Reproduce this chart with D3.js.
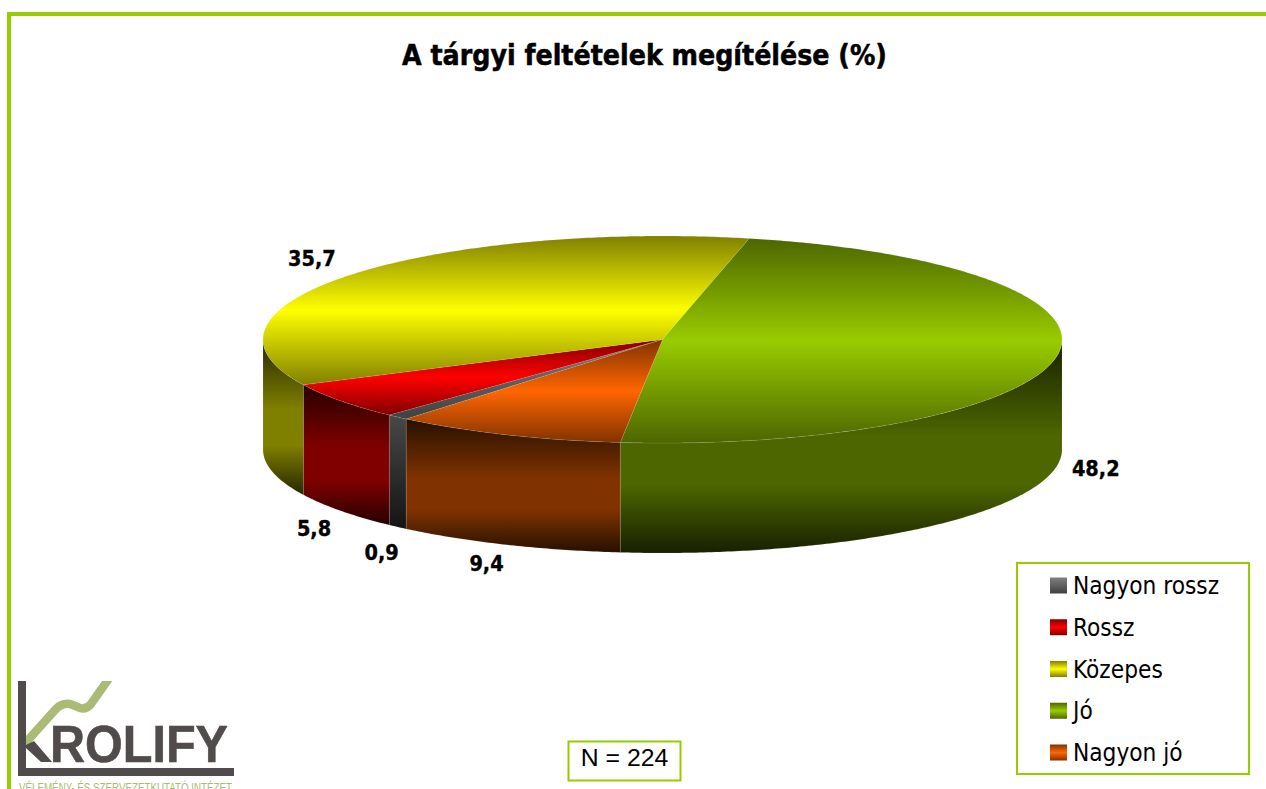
<!DOCTYPE html>
<html>
<head>
<meta charset="utf-8">
<script src="https://cdn.jsdelivr.net/npm/d3@7/dist/d3.min.js"></script>
<style>
html,body{margin:0;padding:0;background:#fff;overflow:hidden}
svg{display:block}
.tah{font-family:"DejaVu Sans Condensed","DejaVu Sans",sans-serif;font-stretch:condensed}
.bold{font-family:"DejaVu Sans Condensed","DejaVu Sans",sans-serif;font-stretch:condensed;font-weight:700;stroke:#000}
.ar{font-family:"Liberation Sans",Arial,sans-serif}
</style>
</head>
<body>
<svg id="c" width="1266" height="789"></svg>
<script>
const title = "A tárgyi feltételek megítélése (%)";
const categories = ["Nagyon rossz", "Rossz", "Közepes", "Jó", "Nagyon jó"];
const values = [0.9, 5.8, 35.7, 48.2, 9.4];
const valueLabels = ["0,9", "5,8", "35,7", "48,2", "9,4"];
const sampleNote = "N = 224";

const brightColors = ["#808080", "#ff0000", "#ffff00", "#99cc00", "#ff6600"];
const midColors    = ["#404040", "#800000", "#808000", "#4d6600", "#803300"];
const deepColors   = ["#141414", "#260000", "#262600", "#172000", "#261000"];
const labelNudge   = [[-16,26],[-27,18],[-37,-16],[39,3],[-20,19]];

const svg = d3.select("#c");
const green = "#99cc00";

// frame
svg.append("rect").attr("x",7).attr("y",12).attr("width",1259).attr("height",4).attr("fill",green);
svg.append("rect").attr("x",7).attr("y",12).attr("width",4).attr("height",777).attr("fill",green);

// title
svg.append("text").attr("class","bold").attr("x",644.5).attr("y",65).attr("text-anchor","middle")
  .attr("stroke-width",.5).attr("font-size",28.2).attr("fill","#000").text(title);

// projection scales
const px = d3.scaleLinear().domain([-1,1]).range([263,1062]);
const py = d3.scaleLinear().domain([-1,1]).range([236,443]);
const depth = 110;
const startDeg = 219.9;
const pie = d3.pie().sort(null).value(d=>d)
  .startAngle(startDeg*Math.PI/180).endAngle((startDeg+360)*Math.PI/180);
const arcs = pie(values);
const pt = (t,dz=0)=>[px(Math.sin(t)), py(-Math.cos(t))+dz];
const sample = (a,b)=>{const n=Math.max(2,Math.ceil(Math.abs(b-a)/0.01));return d3.range(n+1).map(i=>a+(b-a)*i/n);};
const line = d3.line();

// gradients
const defs = svg.append("defs");
function grad(id, stops){
  const g = defs.append("linearGradient").attr("id",id).attr("x1",0).attr("y1",0).attr("x2",0).attr("y2",1);
  stops.forEach(([o,c])=>g.append("stop").attr("offset",o).attr("stop-color",c));
}
categories.forEach((c,i)=>{
  grad("top"+i, i===0 ? [[0,brightColors[0]],[1,midColors[0]]]
     : [[0,midColors[i]],[.5,brightColors[i]],[1,midColors[i]]]);
  grad("wall"+i, i===0 ? [[0,"#484848"],[1,deepColors[0]]]
     : [[0,deepColors[i]],[.45,midColors[i]],[.68,midColors[i]],[1,deepColors[i]]]);
});

// walls (only the front half of the cylinder is visible)
const TAU = 2*Math.PI;
const walls = [];
arcs.forEach((a,i)=>{
  [0,TAU].forEach(k=>{
    const s=Math.max(a.startAngle-k,Math.PI/2), e=Math.min(a.endAngle-k,1.5*Math.PI);
    if(e>s) walls.push({i,s,e});
  });
});
svg.append("g").selectAll("path").data(walls).join("path")
  .attr("d",d=>{
    const ts=sample(d.s,d.e);
    return line([...ts.map(t=>pt(t)),...ts.slice().reverse().map(t=>pt(t,depth))])+"Z";
  })
  .attr("fill",d=>`url(#wall${d.i})`)
  .attr("stroke","rgba(255,255,255,.18)").attr("stroke-width",.5);

// top faces
svg.append("g").selectAll("path").data(arcs).join("path")
  .attr("d",a=>line([[px(0),py(0)],...sample(a.startAngle,a.endAngle).map(t=>pt(t))])+"Z")
  .attr("fill",(a,i)=>`url(#top${i})`)
  .attr("stroke","rgba(255,255,255,.18)").attr("stroke-width",.5);

// value labels
svg.append("g").selectAll("text").data(arcs).join("text")
  .attr("class","bold").attr("stroke-width",.35).attr("font-size",21.5).attr("text-anchor","middle").attr("fill","#000")
  .attr("x",(a,i)=>{const m=(a.startAngle+a.endAngle)/2;return pt(m)[0]+labelNudge[i][0];})
  .attr("y",(a,i)=>{const m=(a.startAngle+a.endAngle)/2;const front=Math.cos(m)<0||i===3;return pt(m,front?depth:0)[1]+labelNudge[i][1]+7;})
  .text((a,i)=>valueLabels[i]);

// legend
svg.append("rect").attr("x",1017).attr("y",563).attr("width",232).attr("height",211)
  .attr("fill","#fff").attr("stroke",green).attr("stroke-width",2);
const ly = d3.scalePoint().domain(categories).range([585,752]);
const lg = svg.append("g").selectAll("g").data(categories).join("g");
lg.append("rect").attr("x",1050).attr("y",d=>ly(d)-7.5).attr("width",17).attr("height",16)
  .attr("fill",(d,i)=>`url(#top${i})`);
lg.append("text").attr("class","tah").attr("x",1073).attr("y",d=>ly(d)+9)
  .attr("font-size",24.2).attr("fill","#000").text(d=>d);

// N box
svg.append("rect").attr("x",568.5).attr("y",741.5).attr("width",112).attr("height",39)
  .attr("fill","#fff").attr("stroke",green).attr("stroke-width",2);
svg.append("text").attr("class","ar").attr("x",624.5).attr("y",765.5).attr("text-anchor","middle")
  .attr("font-size",24.8).attr("fill","#000").text(sampleNote);

// logo
const logo = svg.append("g");
const clip = defs.append("clipPath").attr("id","logoClip");
clip.append("rect").attr("x",18).attr("y",681).attr("width",100).attr("height",90);
logo.append("path").attr("clip-path","url(#logoClip)")
  .attr("d","M20 749 L56 709 Q62 703 70 704 Q76 706 80 708 Q86 710 91 704 L110 677")
  .attr("fill","none").attr("stroke","#abbb75").attr("stroke-width",8.5);
logo.append("rect").attr("x",18).attr("y",681).attr("width",8).attr("height",95).attr("fill","#504c4b");
logo.append("rect").attr("x",18).attr("y",768).attr("width",216).attr("height",8).attr("fill","#504c4b");
logo.append("path").attr("d","M26 745 L34 741 L52 762 L41 762 L26 748 Z").attr("fill","#504c4b");
logo.append("text").attr("class","ar").attr("x",50).attr("y",762).attr("font-size",52).attr("font-weight",700)
  .attr("fill","#504c4b").attr("stroke","#504c4b").attr("stroke-width",.6)
  .attr("textLength",178).attr("lengthAdjust","spacingAndGlyphs").text("ROLIFY");
logo.append("text").attr("class","ar").attr("x",19).attr("y",792).attr("font-size",12)
  .attr("fill","#abbb75").attr("textLength",213).attr("lengthAdjust","spacingAndGlyphs").text("VÉLEMÉNY- ÉS SZERVEZETKUTATÓ INTÉZET");
</script>
</body>
</html>
